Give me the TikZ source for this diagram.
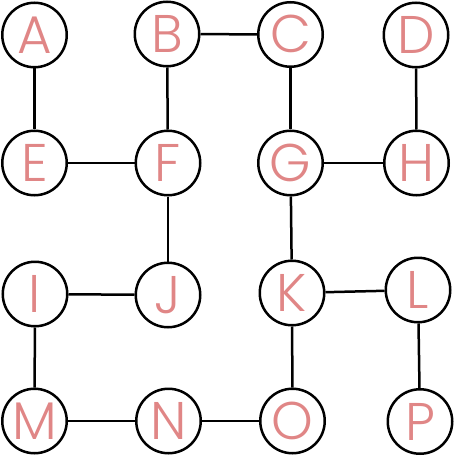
\documentclass[tikz,border=0pt]{standalone}
\usepackage{fontspec}
\setmainfont{Poppins}[UprightFont=* Light]
\usepackage{tikz}

\definecolor{rose}{RGB}{224,134,134}
\tikzset{
    letter/.style={circle, draw=black, line width=2.5pt, minimum size=64.5pt, inner sep=0pt,
        text=rose, font=\fontsize{53}{53}\selectfont, text height=37pt, text depth=0pt},
    link/.style={line width=2.5pt}
}

\begin{document}
\begin{tikzpicture}[x=1pt, y=-1pt]
    \useasboundingbox (0,0) rectangle (455,457);

    \node[letter] (a) at (34.5,35)  {A};
    \node[letter] (b) at (167,34)   {B};
    \node[letter] (c) at (290.5,34.5) {C};
    \node[letter] (d) at (416,35)   {D};

    \node[letter] (e) at (34.5,163) {E};
    \node[letter] (f) at (168,163)  {F};
    \node[letter] (g) at (290.5,163) {G};
    \node[letter] (h) at (416.5,163) {H};

    \node[letter] (i) at (35,294)   {I};
    \node[letter] (j) at (168,295)  {J};
    \node[letter] (k) at (292,293)  {K};
    \node[letter] (l) at (418,290)  {L};

    \node[letter] (m) at (34.5,421) {M};
    \node[letter] (n) at (168.5,421) {N};
    \node[letter] (o) at (292.5,421) {O};
    \node[letter] (p) at (420,421.5) {P};

    \draw[link] (a) -- (e);
    \draw[link] (b) -- (c);
    \draw[link] (b) -- (f);
    \draw[link] (c) -- (g);
    \draw[link] (d) -- (h);
    \draw[link] (e) -- (f);
    \draw[link] (f) -- (j);
    \draw[link] (g) -- (h);
    \draw[link] (g) -- (k);
    \draw[link] (i) -- (j);
    \draw[link] (i) -- (m);
    \draw[link] (k) -- (l);
    \draw[link] (k) -- (o);
    \draw[link] (l) -- (p);
    \draw[link] (m) -- (n);
    \draw[link] (n) -- (o);
\end{tikzpicture}
\end{document}
